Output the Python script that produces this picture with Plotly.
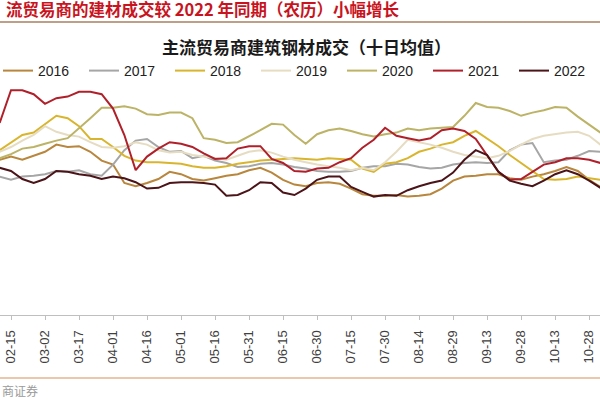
import pandas as pd
import plotly.graph_objects as go

# dates every 5 days (x positions of readings)
dates = pd.date_range("2022-02-10", periods=54, freq="5D")

# 主流贸易商建筑钢材成交（十日均值），万吨（estimated from picture）
y2016 = [19.4, 19.8, 19.4, 19.9, 20.4, 21.3, 21.0, 21.1, 20.4, 19.3,
         18.8, 16.5, 16.1, 16.5, 17.0, 17.9, 17.6, 17.0, 16.8, 17.1,
         17.4, 17.6, 18.1, 18.4, 17.8, 16.9, 16.3, 16.1, 16.5, 16.6,
         16.4, 15.8, 15.1, 14.9, 14.9, 15.0, 14.8, 14.9, 15.1, 15.8,
         16.8, 17.3, 17.4, 17.6, 17.6, 17.1, 16.9, 17.3, 17.6, 18.0,
         18.5, 18.0, 16.9, 16.0]
y2017 = [17.3, 16.9, 17.3, 17.4, 17.6, 18.0, 17.9, 18.1, 17.6, 17.4,
         18.8, 20.6, 21.8, 22.0, 21.0, 20.4, 20.5, 19.6, 19.9, 19.3,
         19.0, 18.5, 18.6, 18.9, 19.0, 18.8, 18.5, 18.3, 18.0, 17.9,
         17.9, 18.0, 18.4, 18.6, 18.6, 18.9, 18.8, 18.5, 18.3, 18.4,
         18.8, 19.0, 19.1, 19.0, 19.1, 20.6, 21.3, 21.5, 19.1, 19.3,
         19.4, 19.9, 20.5, 20.4]
y2018 = [20.6, 21.6, 22.5, 22.8, 23.9, 24.9, 24.6, 23.6, 22.0, 22.0,
         21.0, 19.9, 19.3, 19.1, 19.1, 19.0, 18.9, 18.6, 18.4, 18.4,
         18.6, 18.9, 19.1, 19.3, 19.4, 19.5, 19.6, 19.5, 19.4, 19.6,
         19.5, 19.4, 18.3, 17.9, 18.9, 19.1, 19.6, 20.4, 20.8, 21.3,
         21.6, 22.4, 23.0, 22.1, 21.1, 20.0, 19.0, 17.9, 17.0, 16.9,
         17.0, 17.3, 17.1, 16.9]
y2019 = [20.4, 21.0, 21.8, 22.5, 23.6, 22.9, 22.5, 22.3, 21.6, 21.0,
         20.9, 21.1, 21.6, 21.3, 20.6, 20.3, 20.4, 20.0, 19.8, 19.6,
         19.4, 19.9, 20.4, 20.6, 20.3, 19.8, 19.4, 19.1, 18.8, 18.6,
         18.4, 18.1, 18.4, 18.1, 19.1, 20.4, 21.9, 21.6, 21.3, 20.9,
         20.4, 20.0, 19.8, 19.6, 19.9, 20.5, 21.3, 22.0, 22.4, 22.6,
         22.8, 22.9, 22.4, 21.3]
y2020 = [19.6, 20.1, 20.8, 21.0, 21.4, 21.8, 22.1, 23.3, 24.6, 25.9,
         25.9, 26.1, 25.8, 25.1, 25.0, 25.3, 25.3, 24.6, 22.1, 21.9,
         21.5, 21.6, 22.3, 23.1, 23.9, 23.8, 22.5, 21.4, 22.6, 23.1,
         23.3, 23.0, 22.6, 22.3, 22.6, 22.8, 23.3, 23.1, 23.3, 23.4,
         23.5, 24.9, 26.5, 26.0, 25.9, 25.5, 24.9, 25.3, 25.6, 26.0,
         25.9, 24.8, 23.8, 22.8]
y2021 = [24.0, 28.1, 28.1, 27.6, 26.4, 27.1, 27.3, 27.9, 27.9, 27.6,
         25.8, 22.5, 18.1, 19.8, 20.8, 21.6, 21.4, 21.0, 20.2, 19.5,
         19.6, 20.8, 21.1, 21.1, 19.5, 19.0, 18.0, 17.9, 18.3, 18.4,
         19.1, 19.6, 20.9, 21.9, 23.4, 22.4, 22.1, 21.8, 22.1, 23.1,
         23.3, 23.0, 22.0, 20.0, 17.9, 16.9, 17.0, 17.9, 18.8, 19.1,
         19.6, 19.6, 19.4, 19.0]
y2022 = [18.4, 18.0, 17.0, 16.5, 17.0, 18.0, 17.9, 17.6, 17.4, 17.0,
         17.3, 17.1, 16.6, 15.8, 15.9, 16.5, 16.6, 16.6, 16.5, 16.3,
         14.9, 15.0, 15.6, 16.6, 16.5, 15.3, 15.0, 15.8, 16.9, 17.3,
         17.3, 16.0, 15.4, 14.8, 15.0, 14.9, 15.6, 16.1, 16.5, 16.8,
         17.8, 19.4, 20.6, 20.0, 17.9, 16.8, 16.4, 16.1, 16.8, 17.6,
         18.1, 17.6, 16.8, 15.9]

years = ["2016", "2017", "2018", "2019", "2020", "2021", "2022"]
series = [y2016, y2017, y2018, y2019, y2020, y2021, y2022]
colors = ["#B8863C", "#A6A6A6", "#D9B52E", "#E6DCC2", "#BCB366", "#B0202A", "#4B1418"]

tick_labels = ["02-15", "03-02", "03-17", "04-01", "04-16", "05-01", "05-16",
               "05-31", "06-15", "06-30", "07-15", "07-30", "08-14", "08-29",
               "09-13", "09-28", "10-13", "10-28"]
tick_dates = ["2022-" + t for t in tick_labels]

fig = go.Figure()
for name, ys, c in zip(years, series, colors):
    fig.add_trace(go.Scatter(x=dates, y=ys, name=name, mode="lines",
                             line=dict(color=c, width=2)))

H = 235.0  # plot height in px
def py(px_from_top):
    return (315 - px_from_top) / H

fig.update_layout(
    width=600, height=400,
    margin=dict(l=0, r=0, t=80, b=85, autoexpand=False),
    plot_bgcolor="white", paper_bgcolor="white",
    font=dict(family="Liberation Sans, Arial, sans-serif"),
    showlegend=True,
    legend=dict(orientation="h", x=-2/600, xanchor="left", y=py(71), yanchor="middle",
                font=dict(size=14, color="#222222"), entrywidth=41, entrywidthmode="pixels",
                itemwidth=30, bgcolor="rgba(0,0,0,0)"),
    xaxis=dict(type="date", range=["2022-02-10 03:36", "2022-11-01 19:12"],
               tickvals=tick_dates, ticktext=tick_labels, tickangle=-90,
               showline=True, linecolor="#BFBFBF", linewidth=1,
               ticks="outside", ticklen=4, tickcolor="#BFBFBF",
               ticklabelstandoff=5,
               showgrid=False, zeroline=False,
               tickfont=dict(size=13, color="#404040")),
    yaxis=dict(range=[0, 29.375], visible=False, fixedrange=True),
)

fig.add_annotation(xref="paper", yref="paper", x=401/600, y=py(9), xanchor="right", yanchor="middle",
                   text="<b>流贸易商的建材成交较 2022 年同期（农历）小幅增长</b>", showarrow=False,
                   font=dict(size=16.5, color="#C8141E", family="Noto Sans CJK SC"))
fig.add_annotation(xref="paper", yref="paper", x=306/600, y=py(47), xanchor="center", yanchor="middle",
                   text="<b>主流贸易商建筑钢材成交（十日均值）</b>", showarrow=False,
                   font=dict(size=17, color="#1A1A1A", family="Noto Sans CJK SC"))
fig.add_annotation(xref="paper", yref="paper", x=0, y=py(390), xanchor="left", yanchor="middle",
                   text="商证券", showarrow=False,
                   font=dict(size=12, color="#9A9A9A", family="Noto Sans CJK SC"))

fig.add_shape(type="line", xref="paper", yref="paper", x0=0, x1=1, y0=py(22), y1=py(22),
              line=dict(color="#A88060", width=1.5))
fig.add_shape(type="line", xref="paper", yref="paper", x0=0, x1=1, y0=py(378), y1=py(378),
              line=dict(color="#D8925A", width=1.2))

fig.write_html("out.html", config={"displayModeBar": False},
               post_script="document.body.style.margin='0px';document.body.style.padding='0px';")
